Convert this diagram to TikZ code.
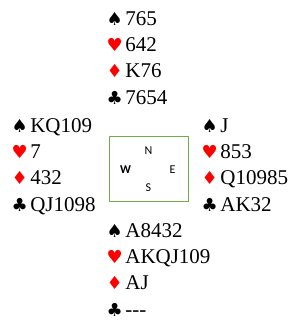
\documentclass[tikz,border=0pt]{standalone}
\usepackage{fontspec}
\setmainfont{Liberation Serif}
\newfontfamily\suitfont{DejaVu Sans}
\newfontfamily\compassfont{Carlito}
\usepackage{tikz}
\usetikzlibrary{positioning}
\definecolor{suitred}{HTML}{FF0000}
\definecolor{tablegreen}{HTML}{70AD47}
\newcommand{\spd}{{\suitfont\fontsize{18}{18}\selectfont ♠}\hspace{2.5pt}}
\newcommand{\hrt}{{\suitfont\fontsize{18}{18}\selectfont\color{suitred}♥}\hspace{2.5pt}}
\newcommand{\dmd}{{\suitfont\fontsize{18}{18}\selectfont\color{suitred}♦}\hspace{2.5pt}}
\newcommand{\clb}{{\suitfont\fontsize{18}{18}\selectfont ♣}\hspace{2.5pt}}
\tikzset{
  hand/.style={anchor=base west,inner sep=0pt,align=left,
    font=\fontsize{21}{26.3}\selectfont},
  table/.style={rectangle,draw=tablegreen,line width=1pt,
    minimum width=79pt,minimum height=65pt,inner sep=0pt},
  seat/.style={inner sep=0pt,font=\compassfont\fontsize{12}{12}\selectfont},
}

\begin{document}
\begin{tikzpicture}[x=1pt,y=-1pt]
  \useasboundingbox (0,0) rectangle (296,326);
  % the table with the four seats
  \node[table] (tbl) at (148.5,168.5) {};
  \node[seat] (seatN) at (148.5,150.5) {N};
  \node[seat] (seatS) at (148.5,187.5) {S};
  \node[seat,font=\compassfont\bfseries\fontsize{12}{12}\selectfont] (seatW) at (125.5,169.5) {W};
  \node[seat] (seatE) at (172.5,169.5) {E};
  % the four hands (base = last line)
  \node[hand] (north) at (106.5,104) {\spd 765\\\hrt 642\\\dmd K76\\\clb 7654};
  \node[hand] (west) at (11.5,211) {\spd KQ109\\\hrt 7\\\dmd 432\\\clb QJ1098};
  \node[hand] (east) at (201.5,211) {\spd J\\\hrt 853\\\dmd Q10985\\\clb AK32};
  \node[hand] (south) at (106.5,316) {\spd A8432\\\hrt AKQJ109\\\dmd AJ\\\clb -{}-{}-};
\end{tikzpicture}
\end{document}
